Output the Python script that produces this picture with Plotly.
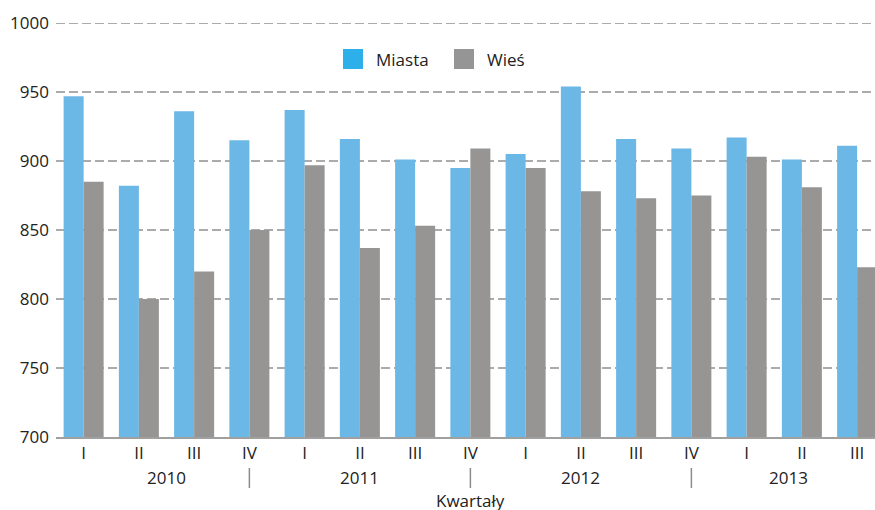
import plotly.graph_objects as go

# data
quarters = ['I', 'II', 'III', 'IV', 'I', 'II', 'III', 'IV',
            'I', 'II', 'III', 'IV', 'I', 'II', 'III']
years = ['2010', '2011', '2012', '2013']
miasta = [947, 882, 936, 915, 937, 916, 901, 895,
          905, 954, 916, 909, 917, 901, 911]
wies = [885, 800, 820, 850, 897, 837, 853, 909,
        895, 878, 873, 875, 903, 881, 823]

blue = '#6BB7E6'
grey = '#969594'
legend_blue = '#2DB0E9'
legend_grey = '#959595'
font = 'Open Sans, Noto Sans, sans-serif'
fs = 17

W, H = 875, 510
# plot area in page pixels: x 56..875, y 23..437
L, R, T, B = 56, 0, 23, 510 - 437
pw, ph = W - L - R, H - T - B


def px(x):
    return (x - L) / pw


def py(y):
    return (437 - y) / ph


xs = list(range(len(quarters)))

fig = go.Figure()
fig.add_trace(go.Bar(x=xs, y=miasta, name='Miasta', marker=dict(color=blue, line=dict(width=0))))
fig.add_trace(go.Bar(x=xs, y=wies, name='Wieś', marker=dict(color=grey, line=dict(width=0))))

# year labels and separators (separators sit under quarter IV)
sep_idx = [i for i, q in enumerate(quarters) if q == 'IV']
bounds = [0] + sep_idx + [len(quarters) - 0.5]
year_pos = [(bounds[i] + bounds[i + 1]) / 2 for i in range(len(bounds) - 1)]

annotations = []
shapes = []
for yr, xp in zip(years, year_pos):
    annotations.append(dict(x=xp, y=py(477), xref='x', yref='paper', text=yr, showarrow=False,
                            font=dict(size=fs, color='#222222', family=font), yanchor='middle'))
for s in sep_idx:
    shapes.append(dict(type='line', xref='x', yref='paper', x0=s, x1=s, y0=py(468), y1=py(488),
                       line=dict(color='#8C8C8C', width=1.5)))

annotations.append(dict(x=7, y=py(487), xref='x', yref='paper', text='Kwartały', showarrow=False,
                        font=dict(size=fs, color='#222222', family=font), yanchor='top'))

# top gridline at 1000 (edge of the range)
shapes.append(dict(type='line', xref='paper', yref='y', x0=0, x1=1, y0=1000, y1=1000,
                   line=dict(color='#ABABAB', width=2, dash='9px,4px'), layer='below'))

# manual legend
for x0, col, name in [(343, legend_blue, 'Miasta'), (454, legend_grey, 'Wieś')]:
    shapes.append(dict(type='rect', xref='paper', yref='paper', x0=px(x0), x1=px(x0 + 20),
                       y0=py(69), y1=py(49), fillcolor=col, line=dict(width=0)))
    annotations.append(dict(x=px(x0 + 31), y=py(59), xref='paper', yref='paper', text=name,
                            showarrow=False, xanchor='left', yanchor='middle',
                            font=dict(size=fs, color='#222222', family=font)))

fig.update_layout(
    width=W, height=H,
    margin=dict(l=L, r=R, t=T, b=B),
    paper_bgcolor='white', plot_bgcolor='white',
    barmode='group', bargap=0.276, bargroupgap=0,
    showlegend=False,
    font=dict(family=font, size=fs, color='#222222'),
    annotations=annotations, shapes=shapes,
)
fig.update_xaxes(
    range=[-0.5, -0.5 + pw / 55.25],
    tickvals=xs, ticktext=quarters, ticks='', showgrid=False,
    showline=True, linecolor='#A0A0A0', linewidth=2,
    tickfont=dict(size=fs, color='#222222', family=font),
)
fig.update_yaxes(
    range=[700, 1000], tickvals=[700, 750, 800, 850, 900, 950, 1000],
    ticks='', showline=False, zeroline=False, ticklabelstandoff=6,
    showgrid=True, gridcolor='#ABABAB', gridwidth=2, griddash='9px,4px',
    tickfont=dict(size=fs, color='#222222', family=font),
)

# drop the default body margin so the figure fills the window exactly
fig.write_html('out.html', config={'displayModeBar': False},
               post_script="document.body.style.margin='0';document.body.style.overflow='hidden';")
